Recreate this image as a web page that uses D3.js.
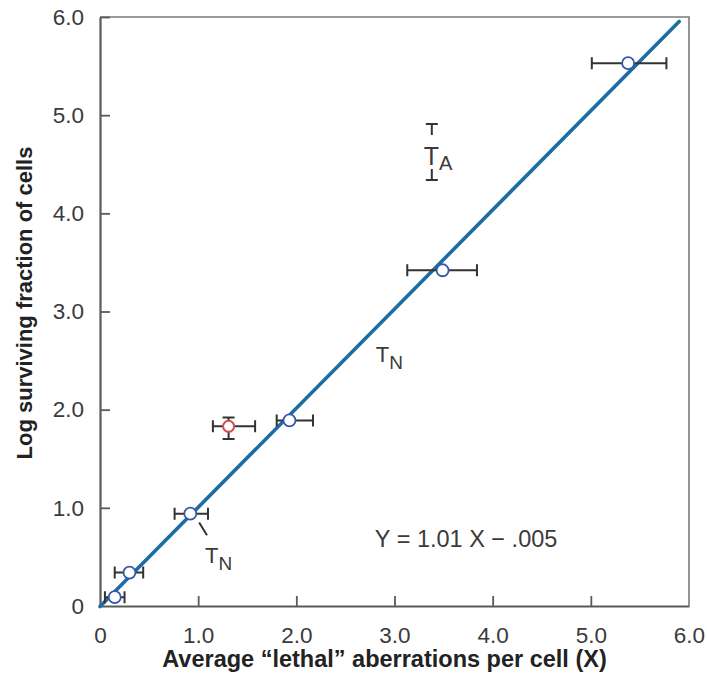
<!DOCTYPE html>
<html>
<head>
<meta charset="utf-8">
<script src="https://cdn.jsdelivr.net/npm/d3@7"></script>
<style>
  html, body { margin: 0; padding: 0; background: #fff; }
  svg { display: block; }
  text { font-family: "Liberation Sans", Arial, Helvetica, sans-serif; }
</style>
</head>
<body>
<svg id="chart" width="707" height="675"></svg>
<script>
// Cell survival vs. average lethal aberrations per cell
const xTicks = [0, 1, 2, 3, 4, 5, 6];
const yTicks = [0, 1, 2, 3, 4, 5, 6];
const tickLabels = ["0", "1.0", "2.0", "3.0", "4.0", "5.0", "6.0"];

// main series (open blue circles) with horizontal error bars
const xVals = [0.15, 0.30, 0.92, 1.93, 3.49, 5.38];
const yVals = [0.09, 0.34, 0.94, 1.89, 3.42, 5.53];
const xLow  = [0.05, 0.15, 0.76, 1.80, 3.13, 5.01];
const xHigh = [0.25, 0.44, 1.10, 2.17, 3.84, 5.77];

// outlier point (red) with both error bars
const redX = [1.31], redY = [1.83];
const redXLow = [1.15], redXHigh = [1.58];
const redYLow = [1.70], redYHigh = [1.92];

// T_A vertical range
const taX = [3.38], taYLow = [4.34], taYHigh = [4.91];

// fitted line Y = 1.01 X - .005
const fitSlope = 1.01, fitIntercept = -0.005;
const fitRange = [0, 5.9];

const svg = d3.select("#chart");
const plotLeft = 100, plotRight = 689, plotTop = 17, plotBottom = 606;

const x = d3.scaleLinear().domain([0, 6]).range([plotLeft, plotRight]);
const y = d3.scaleLinear().domain([0, 6]).range([plotBottom, plotTop]);

const axisColor = "#5a5a5a";
const textColor = "#3a3a3a";

// frame (top and right sides)
svg.append("path")
  .attr("d", `M${plotLeft},${plotTop}H${plotRight}V${plotBottom}`)
  .attr("fill", "none").attr("stroke", "#7a7a7a").attr("stroke-width", 1.6);

// x axis with inward ticks
const xAxis = d3.axisBottom(x).tickValues(xTicks)
  .tickSizeInner(-10).tickSizeOuter(0).tickPadding(21)
  .tickFormat((d, i) => tickLabels[i]);
const gx = svg.append("g").attr("transform", `translate(0,${plotBottom})`).call(xAxis);
gx.select(".domain").attr("stroke", axisColor).attr("stroke-width", 2.2);
gx.selectAll(".tick line").attr("stroke", axisColor).attr("stroke-width", 1.8);
gx.selectAll(".tick text").attr("fill", textColor).attr("font-size", 22.5)
  .attr("font-family", "Liberation Sans, Arial, sans-serif");

// y axis with inward ticks
const yAxis = d3.axisLeft(y).tickValues(yTicks)
  .tickSizeInner(-10).tickSizeOuter(0).tickPadding(16)
  .tickFormat((d, i) => tickLabels[i]);
const gy = svg.append("g").attr("transform", `translate(${plotLeft},0)`).call(yAxis);
gy.select(".domain").attr("stroke", axisColor).attr("stroke-width", 2.2);
gy.selectAll(".tick line").attr("stroke", axisColor).attr("stroke-width", 1.8);
gy.selectAll(".tick text").attr("fill", textColor).attr("font-size", 22.5)
  .attr("font-family", "Liberation Sans, Arial, sans-serif");
gy.selectAll(".tick").filter(d => d === 0).select("line").remove();
gx.selectAll(".tick").filter(d => d === 0 || d === 6).select("line").remove();

// axis titles
svg.append("text")
  .attr("x", (plotLeft + plotRight) / 2 - 10).attr("y", 667)
  .attr("text-anchor", "middle").attr("font-size", 23.5).attr("font-weight", "bold")
  .attr("fill", "#222")
  .text("Average \u201Clethal\u201D aberrations per cell (X)");

svg.append("text")
  .attr("transform", `translate(32,303) rotate(-90)`)
  .attr("text-anchor", "middle").attr("font-size", 22).attr("font-weight", "bold")
  .attr("fill", "#222")
  .text("Log surviving fraction of cells");

// fitted line
svg.append("line")
  .attr("x1", x(fitRange[0])).attr("y1", y(fitSlope * fitRange[0] + fitIntercept))
  .attr("x2", x(fitRange[1])).attr("y2", y(fitSlope * fitRange[1] + fitIntercept))
  .attr("stroke", "#1d6da5").attr("stroke-width", 3.6).attr("stroke-linecap", "round");

const ebColor = "#333";
const capH = 6;

// horizontal error bars for the main series
const main = xVals.map((v, i) => ({ x: v, y: yVals[i], lo: xLow[i], hi: xHigh[i] }));
const eb = svg.append("g").attr("stroke", ebColor).attr("stroke-width", 2).attr("fill", "none");
main.forEach(d => {
  eb.append("path").attr("d",
    `M${x(d.lo)},${y(d.y)}H${x(d.hi)}` +
    `M${x(d.lo)},${y(d.y) - capH}V${y(d.y) + capH}` +
    `M${x(d.hi)},${y(d.y) - capH}V${y(d.y) + capH}`);
});

// red point error bars
redX.forEach((v, i) => {
  const cx = x(v), cy = y(redY[i]);
  eb.append("path").attr("d",
    `M${x(redXLow[i])},${cy}H${x(redXHigh[i])}` +
    `M${x(redXLow[i])},${cy - capH}V${cy + capH}` +
    `M${x(redXHigh[i])},${cy - capH}V${cy + capH}` +
    `M${cx},${y(redYLow[i])}V${y(redYHigh[i])}` +
    `M${cx - capH},${y(redYLow[i])}H${cx + capH}` +
    `M${cx - capH},${y(redYHigh[i])}H${cx + capH}`);
});

// markers
svg.append("g").selectAll("circle").data(main).join("circle")
  .attr("cx", d => x(d.x)).attr("cy", d => y(d.y)).attr("r", 6)
  .attr("fill", "#fff").attr("stroke", "#3558a8").attr("stroke-width", 1.8);

svg.append("g").selectAll("circle").data(redX).join("circle")
  .attr("cx", d => x(d)).attr("cy", (d, i) => y(redY[i])).attr("r", 5.5)
  .attr("fill", "#fff").attr("stroke", "#d0504f").attr("stroke-width", 2);

// T_A range: capped stems above and below the label
taX.forEach((v, i) => {
  const cx = x(v), yt = y(taYHigh[i]), yb = y(taYLow[i]);
  eb.append("path").attr("d",
    `M${cx - capH},${yt}H${cx + capH}M${cx},${yt}V${yt + 11}` +
    `M${cx - capH},${yb}H${cx + capH}M${cx},${yb}V${yb - 11}`);
  const t = svg.append("text").attr("x", cx - 8).attr("y", yt + 41)
    .attr("font-size", 25).attr("fill", textColor);
  t.append("tspan").text("T");
  t.append("tspan").attr("dy", 5).attr("font-size", 20).text("A");
});

// T_N labels
function tLabel(px, py, sub) {
  const t = svg.append("text").attr("x", px).attr("y", py)
    .attr("font-size", 22).attr("fill", textColor);
  t.append("tspan").text("T");
  t.append("tspan").attr("dy", 7).attr("font-size", 19).text(sub);
}
tLabel(x(2.81), y(2.49), "N");
tLabel(x(1.07), y(0.44), "N");
svg.append("line")
  .attr("x1", x(1.01)).attr("y1", y(0.85))
  .attr("x2", x(1.09)).attr("y2", y(0.72))
  .attr("stroke", "#333").attr("stroke-width", 2);

// regression equation
svg.append("text")
  .attr("x", x(2.8)).attr("y", y(0.6))
  .attr("font-size", 23.5).attr("fill", textColor)
  .text("Y = 1.01 X \u2212 .005");
</script>
</body>
</html>
